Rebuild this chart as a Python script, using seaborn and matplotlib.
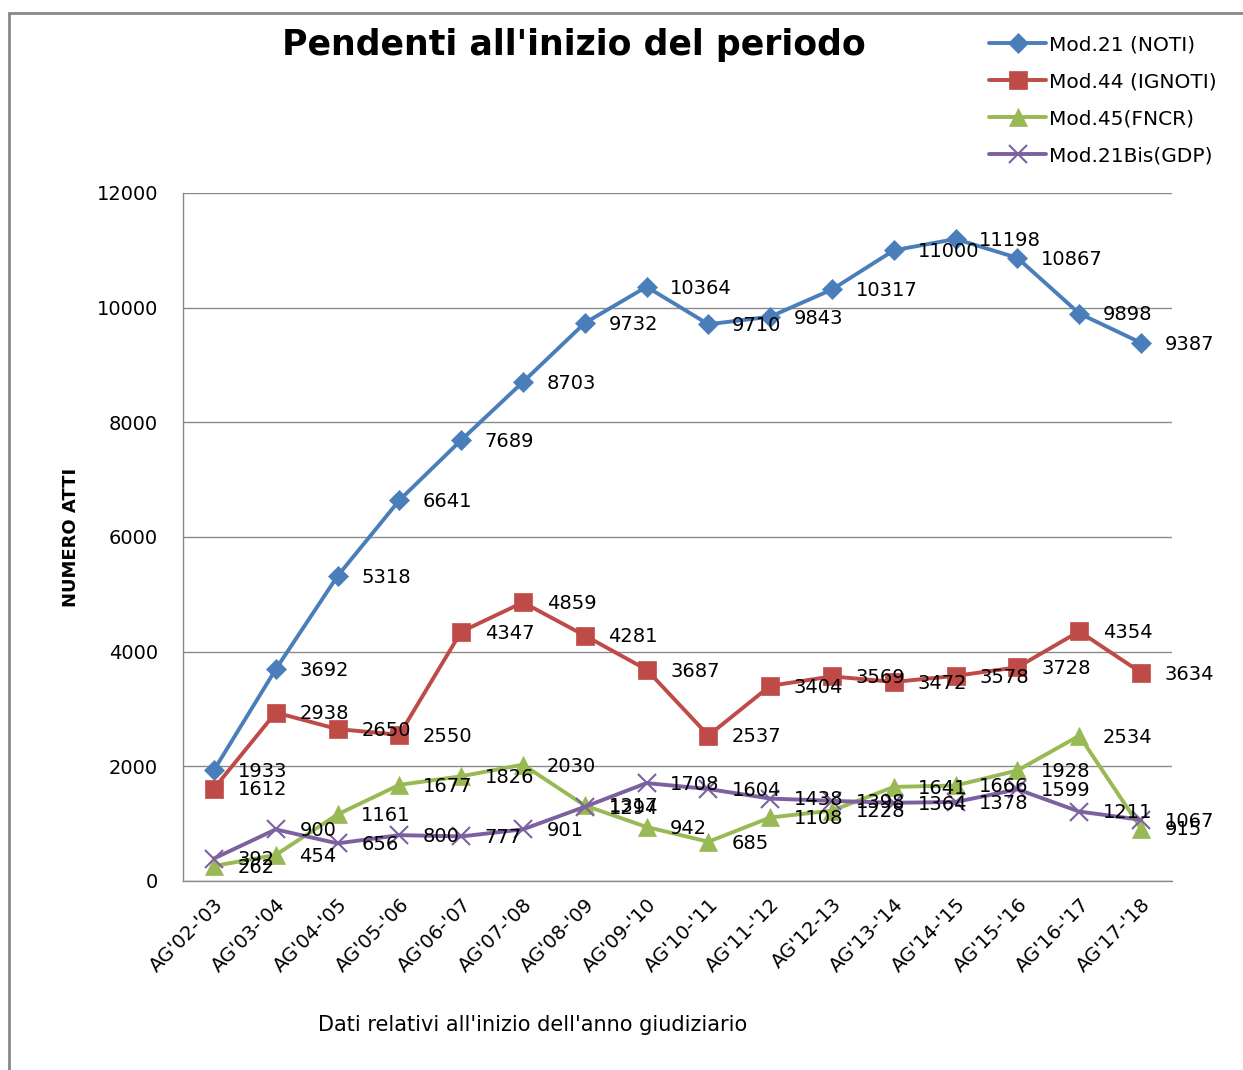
import matplotlib
matplotlib.use("Agg")
import matplotlib.pyplot as plt
import seaborn as sns
from matplotlib.patches import Rectangle

categories = ["AG'02-'03", "AG'03-'04", "AG'04-'05", "AG'05-'06", "AG'06-'07", "AG'07-'08",
              "AG'08-'09", "AG'09-'10", "AG'10-'11", "AG'11-'12", "AG'12-13", "AG'13-'14",
              "AG'14-'15", "AG'15-'16", "AG'16-'17", "AG'17-'18"]
mod21 = [1933, 3692, 5318, 6641, 7689, 8703, 9732, 10364, 9710, 9843, 10317, 11000, 11198, 10867, 9898, 9387]
mod44 = [1612, 2938, 2650, 2550, 4347, 4859, 4281, 3687, 2537, 3404, 3569, 3472, 3578, 3728, 4354, 3634]
mod45 = [262, 454, 1161, 1677, 1826, 2030, 1317, 942, 685, 1108, 1228, 1641, 1666, 1928, 2534, 915]
mod21bis = [392, 900, 656, 800, 777, 901, 1294, 1708, 1604, 1438, 1398, 1364, 1378, 1599, 1211, 1067]

series_names = ["Mod.21 (NOTI)", "Mod.44 (IGNOTI)", "Mod.45(FNCR)", "Mod.21Bis(GDP)"]
series_values = [mod21, mod44, mod45, mod21bis]
colors = ["#4A7EBB", "#BE4B48", "#98B954", "#7D60A0"]
markers = ["D", "s", "^", "x"]
msizes = [10, 13, 13, 13]

sns.set_style("white")
plt.rcParams['font.family'] = ['DejaVu Sans']
plt.rcParams['text.color'] = 'black'
plt.rcParams['axes.labelcolor'] = 'black'
plt.rcParams['xtick.color'] = 'black'
plt.rcParams['ytick.color'] = 'black'

fig = plt.figure(figsize=(12.43, 10.70), dpi=100)
ax = fig.add_axes([183/1243, 1-881/1070, (1172-183)/1243, (881-193)/1070])

x = list(range(len(categories)))
for name, vals, c, m, ms in zip(series_names, series_values, colors, markers, msizes):
    sns.lineplot(x=x, y=vals, ax=ax, color=c, marker=m, markersize=ms, linewidth=2.8,
                 markeredgecolor=c, markeredgewidth=1.5 if m == "x" else 0.5, label=name)
    for xi, v in zip(x, vals):
        ax.annotate(str(v), (xi, v), xytext=(17, -1), textcoords="offset points",
                    ha="left", va="center", fontsize=14, color="black")

ax.set_xlim(-0.5, len(categories) - 0.5)
ax.set_ylim(0, 12000)
ax.set_yticks(range(0, 12001, 2000))
ax.set_xticks(x)
ax.set_xticklabels(categories, rotation=45, ha="right", rotation_mode="anchor", fontsize=14)
ax.tick_params(axis="y", labelsize=14, length=0, pad=18)
ax.tick_params(axis="x", length=0, pad=10)
ax.yaxis.grid(True, color="#8a8a8a", linewidth=1)
ax.xaxis.grid(False)
for s in ["top", "right"]:
    ax.spines[s].set_visible(False)
for s in ["left", "bottom"]:
    ax.spines[s].set_color("#8a8a8a")
    ax.spines[s].set_linewidth(1)

ax.set_ylabel("NUMERO ATTI", fontsize=13, fontweight="bold")
ax.yaxis.set_label_coords((80-183)/(1172-183), 0.5)
ax.set_xlabel("Dati relativi all'inizio dell'anno giudiziario", fontsize=15)
ax.xaxis.set_label_coords((533-183)/(1172-183), -(1025-881)/(881-193))
ax.xaxis.label.set_verticalalignment("center")

fig.text(574/1243, 1-45/1070, "Pendenti all'inizio del periodo", ha="center", va="center",
         fontsize=25, fontweight="bold")

leg = ax.legend(loc="upper left", bbox_to_anchor=(981/1243, 1-27/1070), bbox_transform=fig.transFigure,
                frameon=False, fontsize=14.5, handlelength=2.85, labelspacing=0.9, handletextpad=0.15,
                borderaxespad=0)

fig.patches.append(Rectangle((9/1243, -0.2), 1.5, 1-13/1070+0.2, transform=fig.transFigure,
                             fill=False, edgecolor="#888888", linewidth=2))

fig.savefig("out.png", dpi=100, facecolor="white")
